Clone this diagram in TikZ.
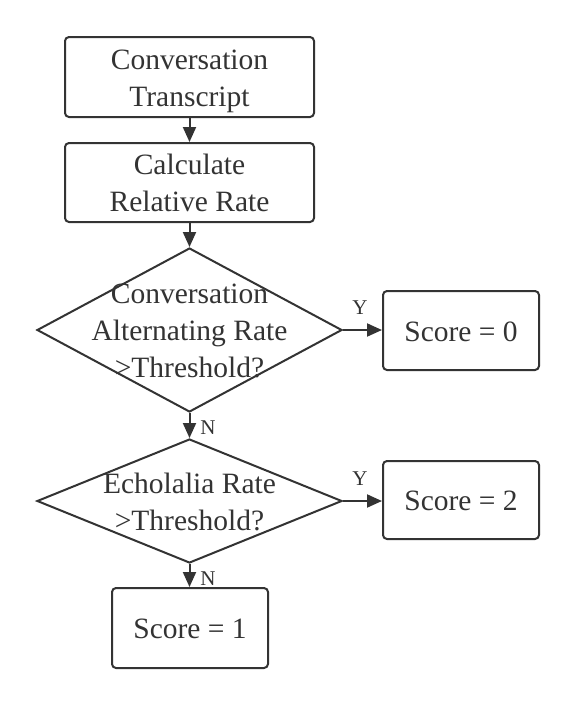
\documentclass[tikz,border=0pt]{standalone}
\usepackage{fontspec}
\setmainfont{Liberation Serif}
\usetikzlibrary{shapes.geometric,arrows.meta}
\definecolor{ink}{HTML}{333333}
\newcommand\ms{\rule[-7pt]{0pt}{35pt}}
\tikzset{
  box/.style={draw=ink, line width=2pt, rounded corners=4pt, inner sep=0pt, text=ink,
    font=\fontsize{29.5}{37}\selectfont, align=center},
  dia/.style={draw=ink, line width=2pt, diamond, inner sep=0pt},
  dtext/.style={text=ink, font=\fontsize{29.5}{37}\selectfont, align=center, inner sep=0pt},
  conn/.style={draw=ink, line width=2pt, -{Triangle[length=15pt,width=13pt]}},
  lab/.style={text=ink, font=\fontsize{21}{24}\selectfont, inner sep=0pt}
}
\begin{document}
\begin{tikzpicture}[x=1pt,y=-1pt]
\useasboundingbox[fill=white] (0,0) rectangle (576,705);
\node[box, minimum width=249pt, minimum height=80pt] (b1) at (189.5,77) {\ms Conversation\\\ms Transcript};
\node[box, minimum width=249pt, minimum height=79pt] (b2) at (189.5,182.5) {\ms Calculate\\\ms Relative Rate};
\node[dia, minimum width=305pt, minimum height=164pt] (d1) at (189.5,330) {};
\node[dtext] (t1) at (d1.center) {\ms Conversation\\\ms Alternating Rate\\\ms >Threshold?};
\node[box, minimum width=156pt, minimum height=79pt] (s0) at (461,330.5) {\ms Score = 0};
\node[dia, minimum width=305pt, minimum height=124pt] (d2) at (189.5,501) {};
\node[dtext] (t2) at (d2.center) {\ms Echolalia Rate\\\ms >Threshold?};
\node[box, minimum width=156pt, minimum height=78pt] (s2) at (461,500) {\ms Score = 2};
\node[box, minimum width=156pt, minimum height=80pt] (s1) at (190,628) {\ms Score = 1};
\draw[conn] (b1) -- (b2);
\draw[conn] (b2) -- (d1.north);
\draw[conn] (d1.south) -- (d2.north);
\draw[conn] (d2.south) -- (s1.north -| d2.south);
\draw[conn] (d1.east) -- (s0.west |- d1.east);
\draw[conn] (d2.east) -- (s2.west |- d2.east);
\node[lab] (y1) at (360,308) {Y};
\node[lab] (y2) at (360,479) {Y};
\node[lab] (n1) at (208,428) {N};
\node[lab] (n2) at (208,579) {N};
\end{tikzpicture}
\end{document}
